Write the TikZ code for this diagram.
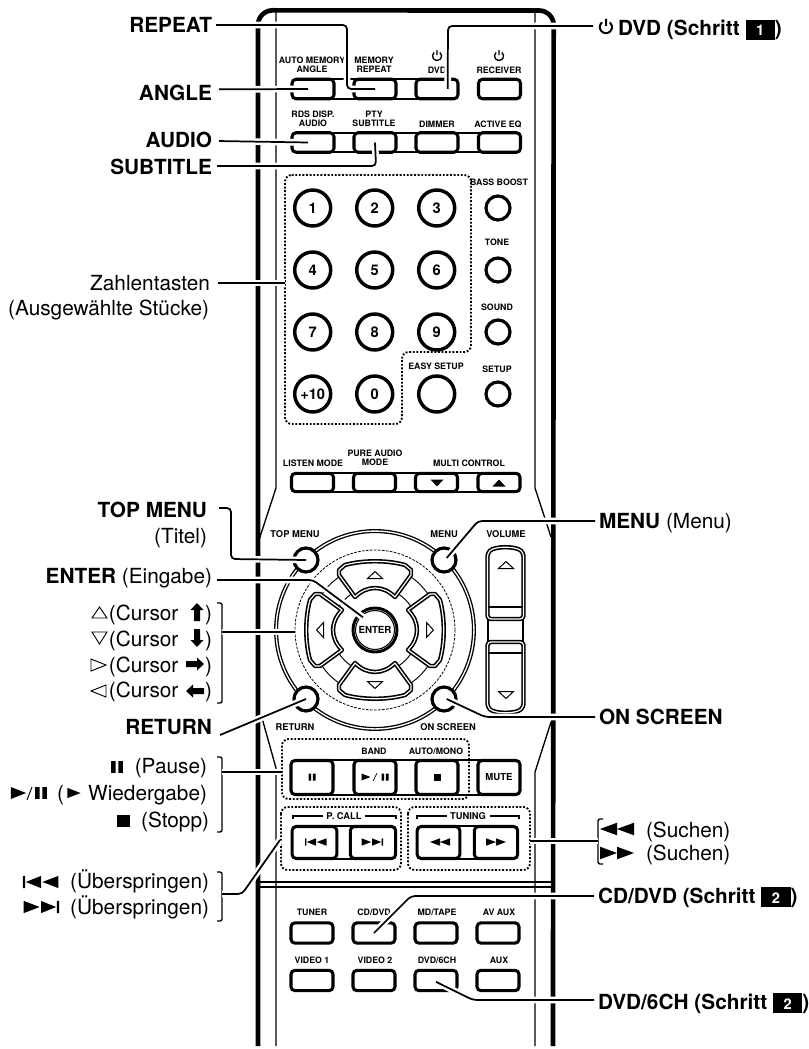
\documentclass[tikz,border=0pt]{standalone}
\usepackage{fontspec}
\setmainfont{TeX Gyre Heros}
\usetikzlibrary{positioning,calc}
\newcommand{\schrittnr}[1]{\rlap{\rule[-3pt]{22pt}{15pt}}\makebox[22pt]{\textcolor{white}{\fontsize{11}{12}\selectfont\bfseries #1}}}
\tikzset{
  pausesym/.pic={\fill (-3.5,-3.5) rectangle (-0.8,3.5) (0.8,-3.5) rectangle (3.5,3.5);},
  playsym/.pic={\fill (-4.5,-3.5) -- (4.5,0) -- (-4.5,3.5) -- cycle;},
  stopsym/.pic={\fill (-3.5,-3.5) rectangle (3.5,3.5);},
  rewsym/.pic={\fill (0,-3.7) -- (-10,0) -- (0,3.7) -- cycle (10,-3.7) -- (0,0) -- (10,3.7) -- cycle;},
  skipsym/.pic={\fill (-11,-3.7) rectangle (-9.6,3.7) (0,-3.7) -- (-9.2,0) -- (0,3.7) -- cycle (10.5,-3.7) -- (0.8,0) -- (10.5,3.7) -- cycle;},
  opentri/.pic={\draw[line width=.75pt] (-7.5,3.5) -- (7.5,3.5) -- (0,-3.5) -- cycle;},
  soltri/.pic={\fill (-6.5,3.5) -- (6.5,3.5) -- (0,-3.5) -- cycle;},
  blockarrow/.pic={\fill (0,-9) -- (6.5,-2) -- (3,-2) -- (3,9) -- (-3,9) -- (-3,-2) -- (-6.5,-2) -- cycle;},
  powersym/.pic={\draw[line width=1pt] (-2.2pt,2.6pt) arc[start angle=130,end angle=410,radius=3.4pt] (0pt,4.4pt) -- (0pt,.6pt);},
  powerbig/.pic={\draw[line width=1.5pt] (-3pt,3.5pt) arc[start angle=130,end angle=410,radius=4.6pt] (0pt,6pt) -- (0pt,.8pt);}
}
\begin{document}
\begin{tikzpicture}[x=.75pt,y=-.75pt,
   body/.style={line width=3.5pt},
   thinline/.style={line width=1pt},
   dots/.style={line width=1.4pt,dash pattern=on 1.4pt off 1.3pt,rounded corners=5pt},
   barline/.style={line width=1.3pt},
   btn/.style={draw,fill=white,line width=2.3pt,rounded corners=3pt,minimum width=31.5pt,minimum height=14.6pt,inner sep=0pt,
               font=\fontsize{7.2}{8}\selectfont\bfseries},
   numkey/.style={circle,draw,fill=white,line width=2.6pt,minimum size=27pt,inner sep=0pt,font=\fontsize{11}{12}\selectfont\bfseries},
   knob/.style={circle,draw,fill=white,line width=2.4pt,minimum size=18pt,inner sep=0pt},
   keylbl/.style={align=center,inner sep=0pt,font=\fontsize{6.6}{7.1}\selectfont\bfseries},
   padbtn/.style={draw,fill=white,line width=1.2pt,double=white,double distance=.9pt,line join=round},
   lbl/.style={anchor=base east,inner sep=0pt,outer xsep=3pt,font=\fontsize{15.6}{18}\selectfont},
   lblr/.style={anchor=base west,inner sep=0pt,outer xsep=3pt,font=\fontsize{15.6}{18}\selectfont},
   brk/.style={line width=1pt,rounded corners=1.5pt},
   leader/.style={line width=1.3pt,rounded corners=3pt,preaction={draw=white,line width=5pt}}]
  \useasboundingbox (0,0) rectangle (809,1049);

  \draw[body] (258,1046) -- (258,25) arc[start angle=180,end angle=90,radius=11pt] -- (539,10.5)
     arc[start angle=90,end angle=0,radius=11pt] -- (553,1046);
  \draw[thinline] (276,10) -- (276,488) -- (258,543);
  \draw[thinline] (535,10) -- (535,488) -- (551,537);
  \draw[thinline] (262,718) -- (276,768) -- (276,1046);
  \draw[thinline] (551,722) -- (535,772) -- (535,1046);
  \draw[thinline] (258,882) -- (553,882);
  \draw[thinline] (258,887) -- (553,887);

  \draw[barline] (313,79) -- (437,79) (313,99) -- (437,99);
  \draw[barline] (313,133) -- (499,133) (313,152) -- (499,152);
  \draw[barline] (313,473) -- (499,473) (313,492) -- (499,492);
  \draw[barline] (312,760) -- (499,760) (312,795) -- (499,795);
  \draw[barline] (314,826) -- (373,826) (314,859) -- (373,859);
  \draw[barline] (438,826) -- (496,826) (438,859) -- (496,859);

  \node[btn] (b-angle) at (313,89) {};
  \node[btn] (b-repeat) at (375,89) {};
  \node[btn] (b-dvd) at (437,89) {};
  \node[btn] (b-receiver) at (499.5,89) {};
  \node[btn] (b-audio) at (313,142.5) {};
  \node[btn] (b-subtitle) at (375,142.5) {};
  \node[btn] (b-dimmer) at (437,142.5) {};
  \node[btn] (b-activeeq) at (499.5,142.5) {};
  \node[keylbl] (t-angle) at (312,65) {AUTO MEMORY\\ANGLE};
  \node[keylbl] (t-repeat) at (374,65) {MEMORY\\REPEAT};
  \node[keylbl] (t-dvd) at (437,70) {DVD};
  \node[keylbl] (t-receiver) at (499,70) {RECEIVER};
  \pic at (437,56) {powersym};
  \pic at (499,56) {powersym};
  \node[keylbl] (t-audio) at (313,119) {RDS DISP.\\AUDIO};
  \node[keylbl] (t-subtitle) at (374,119) {PTY\\SUBTITLE};
  \node[keylbl] (t-dimmer) at (437,124.5) {DIMMER};
  \node[keylbl] (t-activeeq) at (498,124.5) {ACTIVE EQ};

  \draw[dots] (285,175) -- (471,175) -- (471,352) -- (402,352) -- (402,424) -- (285,424) -- cycle;
  \node[numkey] (n-1) at (312.7,208) {1};
  \node[numkey] (n-2) at (374.7,208) {2};
  \node[numkey] (n-3) at (436.7,208) {3};
  \node[numkey] (n-4) at (312.7,270) {4};
  \node[numkey] (n-5) at (374.7,270) {5};
  \node[numkey] (n-6) at (436.7,270) {6};
  \node[numkey] (n-7) at (312.7,332) {7};
  \node[numkey] (n-8) at (374.7,332) {8};
  \node[numkey] (n-9) at (436.7,332) {9};
  \node[numkey] (n-10) at (312.7,394) {+10};
  \node[numkey] (n-0) at (374.7,394) {0};
  \node[numkey] (k-easysetup) at (436.7,394) {};
  \node[knob] (k-bass) at (498,208) {};
  \node[knob] (k-tone) at (498,270) {};
  \node[knob] (k-sound) at (498,332) {};
  \node[knob] (k-setup) at (498,394) {};
  \node[keylbl] (t-bass) at (499,182) {BASS BOOST};
  \node[keylbl] (t-tone) at (497,242) {TONE};
  \node[keylbl] (t-sound) at (497,307) {SOUND};
  \node[keylbl] (t-setup) at (497,369) {SETUP};
  \node[keylbl] (t-easysetup) at (436,366) {EASY SETUP};

  \node[btn,minimum height=13.8pt] (b-listen) at (312.5,482.5) {};
  \node[btn,minimum height=13.8pt] (b-pure) at (374.5,482.5) {};
  \node[btn,minimum height=13.8pt] (b-down) at (436.5,482.5) {};
  \node[btn,minimum height=13.8pt] (b-up) at (499,482.5) {};
  \pic[rotate=180] at (437,483) {soltri};
  \pic at (499,483) {soltri};
  \node[keylbl] (t-listen) at (313,463) {LISTEN MODE};
  \node[keylbl] (t-pure) at (375,458) {PURE AUDIO\\MODE};
  \node[keylbl] (t-multi) at (469,463) {MULTI CONTROL};

  \coordinate (padc) at (375,630);
  \draw[line width=1pt,double=white,double distance=1pt] (padc) circle (74.2pt);
  \draw[line width=.6pt,dash pattern=on 2pt off 1pt] (padc) circle (60pt);
  \draw[line width=.7pt] (padc) circle (48pt) (padc) circle (32.2pt);
  \foreach \a in {0,90,180,270} {
    \begin{scope}[shift={(padc)},rotate=\a]
      \draw[padbtn] (-20,-33) -- (-36,-55) -- (-36,-60) -- (-30,-65) .. controls (-12,-70) and (12,-70) .. (30,-65)
         -- (36,-60) -- (36,-55) -- (20,-33) .. controls (8,-45) and (-8,-45) .. cycle;
      \pic[rotate=\a] at (0,-55) {opentri};
    \end{scope}
  }
  \node[circle,draw,fill=white,line width=2.2pt,minimum size=33pt,inner sep=0pt] (n-enter) at (padc) {};
  \draw[line width=.8pt] (padc) circle (14.6pt);
  \node[keylbl,font=\fontsize{7.3}{8}\selectfont\bfseries] (t-enter) at (padc) {ENTER};
  \node[knob] (k-topmenu) at (306,560) {};
  \node[knob] (k-menu) at (444,560) {};
  \node[knob] (k-return) at (306,699) {};
  \node[knob] (k-onscreen) at (444,699) {};
  \node[keylbl,font=\fontsize{7}{8}\selectfont\bfseries] (t-topmenu) at (295,534) {TOP MENU};
  \node[keylbl,font=\fontsize{7}{8}\selectfont\bfseries] (t-menu) at (444,534) {MENU};
  \node[keylbl,font=\fontsize{7}{8}\selectfont\bfseries] (t-volume) at (506,534) {VOLUME};
  \node[keylbl,font=\fontsize{7}{8}\selectfont\bfseries] (t-return) at (295,727) {RETURN};
  \node[keylbl,font=\fontsize{7}{8}\selectfont\bfseries] (t-onscreen) at (448,727) {ON SCREEN};

  \draw[thinline] (488,615) -- (488,645) (523,615) -- (523,645);
  \draw[padbtn,rounded corners=2.5pt] (487.5,553) .. controls (495,546) and (516,546) .. (523.5,553) -- (523.5,619) -- (487.5,619) -- cycle;
  \draw[padbtn,rounded corners=2.5pt] (487.5,707) .. controls (495,714) and (516,714) .. (523.5,707) -- (523.5,642) -- (487.5,642) -- cycle;
  \draw[line width=1.2pt] (488,607) -- (523,607) (488,653) -- (523,653);
  \pic at (506,565) {opentri};
  \pic[rotate=180] at (506,695) {opentri};

  \draw[dots] (282,739) rectangle (469,799);
  \draw[dots] (281,807) rectangle (401,870);
  \draw[dots] (408,807) rectangle (530,870);
  \node[btn,minimum height=25.5pt] (b-pause) at (312,777.5) {};
  \node[btn,minimum height=25.5pt] (b-play) at (375,777.5) {};
  \node[btn,minimum height=25.5pt] (b-stop) at (437,777.5) {};
  \node[btn,minimum height=25.5pt] (b-mute) at (499,777.5) {MUTE};
  \pic at (312,777) {pausesym};
  \pic at (366,777) {playsym};
  \draw[line width=.5pt] (373,781) -- (377,773);
  \pic at (385,777) {pausesym};
  \pic at (437,777) {stopsym};
  \node[keylbl] (t-band) at (374,751) {BAND};
  \node[keylbl] (t-auto) at (436,751) {AUTO/MONO};

  \node[keylbl,font=\fontsize{7}{8}\selectfont\bfseries] (t-pcall) at (344,816) {P. CALL};
  \node[keylbl,font=\fontsize{7}{8}\selectfont\bfseries] (t-tuning) at (468,816) {TUNING};
  \draw[line width=1.1pt] (293,819) -- (293,816) -- (323,816) (365,816) -- (396,816) -- (396,819);
  \draw[line width=1.1pt] (417,819) -- (417,816) -- (447,816) (490,816) -- (519,816) -- (519,819);
  \node[btn,minimum width=33.5pt,minimum height=24pt] (b-prev) at (314.5,842.5) {};
  \node[btn,minimum width=34pt,minimum height=24pt] (b-next) at (373,842.5) {};
  \node[btn,minimum width=32pt,minimum height=24pt] (b-rew) at (438.5,842.5) {};
  \node[btn,minimum width=32.5pt,minimum height=24pt] (b-ff) at (496,842.5) {};
  \pic at (316,842) {skipsym};
  \pic[xscale=-1] at (372,842) {skipsym};
  \pic at (440,842) {rewsym};
  \pic[xscale=-1] at (496,842) {rewsym};

  \node[btn,minimum height=15.3pt] (b-tuner) at (312,933) {};
  \node[btn,minimum height=15.3pt] (b-cddvd) at (374,933) {};
  \node[btn,minimum height=15.3pt] (b-mdtape) at (436,933) {};
  \node[btn,minimum height=15.3pt] (b-avaux) at (498,933) {};
  \node[btn,minimum height=15.3pt] (b-video1) at (312,980.5) {};
  \node[btn,minimum height=15.3pt] (b-video2) at (374,980.5) {};
  \node[btn,minimum height=15.3pt] (b-dvd6ch) at (436,980.5) {};
  \node[btn,minimum height=15.3pt] (b-aux) at (498,980.5) {};
  \node[keylbl] (t-tuner) at (312,912) {TUNER};
  \node[keylbl] (t-cddvd) at (374,912) {CD/DVD};
  \node[keylbl] (t-mdtape) at (437,912) {MD/TAPE};
  \node[keylbl] (t-avaux) at (499,912) {AV AUX};
  \node[keylbl] (t-video1) at (312,960) {VIDEO 1};
  \node[keylbl] (t-video2) at (375,960) {VIDEO 2};
  \node[keylbl] (t-dvd6ch) at (437,960) {DVD/6CH};
  \node[keylbl] (t-aux) at (499,960) {AUX};

  \node[lbl] (l-repeat) at (216,33) {\bfseries REPEAT};
  \node[lbl] (l-angle) at (216,100) {\bfseries ANGLE};
  \node[lbl] (l-audio) at (216,147.7) {\bfseries AUDIO};
  \node[lbl] (l-subtitle) at (216,174.7) {\bfseries SUBTITLE};
  \node[lbl] (l-zahlen) at (214,290) {Zahlentasten};
  \node[lbl] (l-stuecke) at (213,315) {(Ausgewählte Stücke)};
  \node[lbl] (l-topmenu) at (211,517) {\bfseries TOP MENU};
  \node[lbl] (l-titel) at (211,543) {(Titel)};
  \node[lbl] (l-enter) at (216,583) {\textbf{ENTER} (Eingabe)};
  \node[lbl] (l-cursor1) at (216,620) {(Cursor\hspace{20pt})};
  \node[lbl] (l-cursor2) at (216,646) {(Cursor\hspace{20pt})};
  \node[lbl] (l-cursor3) at (216,672) {(Cursor\hspace{20pt})};
  \node[lbl] (l-cursor4) at (216,697) {(Cursor\hspace{20pt})};
  \draw[line width=.7pt] (92,618) -- (107,618) -- (99.5,607) -- cycle;
  \draw[line width=.7pt] (92,632) -- (107,632) -- (99.5,644) -- cycle;
  \draw[line width=.7pt] (91,659) -- (91,671) -- (106,665) -- cycle;
  \draw[line width=.7pt] (106,685) -- (106,697) -- (91,691) -- cycle;
  \pic at (197,612) {blockarrow};
  \pic[rotate=180] at (197,638) {blockarrow};
  \pic[rotate=-90] at (195,664) {blockarrow};
  \pic[rotate=90] at (195,691) {blockarrow};
  \node[lbl] (l-return) at (216,734) {\bfseries RETURN};
  \node[lbl] (l-pause) at (211,773) {(Pause)};
  \node[lbl] (l-wieder) at (211,800) {(\hspace{18pt}Wiedergabe)};
  \node[lbl] (l-stopp) at (213,827) {(Stopp)};
  \pic[scale=1.7] at (117,767) {pausesym};
  \pic[scale=1.7] at (18.5,793) {playsym};
  \draw[line width=.7pt] (27,800) -- (32,787);
  \pic[scale=1.7] at (41,793) {pausesym};
  \pic[scale=1.45] at (74,793) {playsym};
  \pic[scale=1.8] at (123.5,821) {stopsym};
  \node[lbl] (l-skip1) at (213,888) {(Überspringen)};
  \node[lbl] (l-skip2) at (213,914) {(Überspringen)};
  \pic[scale=1.65] at (41,882) {skipsym};
  \pic[scale=1.65,xscale=-1] at (41,907) {skipsym};

  \node[lblr] (l-dvd) at (614,36) {\bfseries DVD (Schritt \schrittnr{1})};
  \pic at (606,27) {powerbig};
  \node[lblr] (l-menu) at (595,528) {\textbf{MENU} (Menu)};
  \node[lblr] (l-onscreen) at (595,724) {\bfseries ON SCREEN};
  \node[lblr] (l-suchen1) at (642,837) {(Suchen)};
  \node[lblr] (l-suchen2) at (642,860) {(Suchen)};
  \pic[scale=1.7] at (617,829) {rewsym};
  \pic[scale=1.7,xscale=-1] at (617,853) {rewsym};
  \node[lblr] (l-cddvd) at (594,903) {\bfseries CD/DVD (Schritt \schrittnr{2})};
  \node[lblr] (l-dvd6ch) at (594,1009) {\bfseries DVD/6CH (Schritt \schrittnr{2})};

  \draw[brk] (217,603) -- (222,603) -- (222,703) -- (217,703);
  \draw[brk] (217,757) -- (222,757) -- (222,832) -- (217,832);
  \draw[brk] (217,872) -- (222,872) -- (222,921) -- (217,921);
  \draw[brk] (603,819) -- (598,819) -- (598,864) -- (603,864);
  \coordinate (br-cursor) at (222,632);
  \coordinate (br-pause) at (222,772);
  \coordinate (br-skip) at (222,894);
  \coordinate (br-suchen) at (598,841);
  \coordinate (e-zahlen) at (285,283);
  \coordinate (e-cursor) at (295,632);
  \coordinate (e-pause) at (282,772);
  \coordinate (e-skip) at (280,840);
  \coordinate (e-suchen) at (530,841);
  \coordinate (s-dvd) at (593,26);

  \draw[leader] ([yshift=6pt]l-repeat.base east) -- (347,25) -- (347,89) -- (b-repeat.center);
  \draw[leader] ([xshift=2.25pt,yshift=8pt]l-angle.base east) -- ([xshift=-3.75pt]b-angle.center);
  \draw[leader] ([xshift=2.25pt,yshift=5pt]l-audio.base east) -- ([xshift=-3.75pt]b-audio.center);
  \draw[leader] ([xshift=.75pt,yshift=6.5pt]l-subtitle.base east) -- (376,166) -- (b-subtitle.center);
  \draw[leader] ([xshift=3pt,yshift=5.25pt]l-zahlen.base east) -- (e-zahlen);
  \draw[leader] (s-dvd) -- (448,26) -- ([xshift=8pt]b-dvd.center);
  \draw[leader] ([xshift=6pt,yshift=6.75pt]l-topmenu.base east) -- (231,508) -- (231,559) -- (k-topmenu.center);
  \draw[leader] ([xshift=.75pt,yshift=2.25pt]l-enter.base east) -- (313,580) -- ([xshift=-9pt,yshift=9.5pt]n-enter.center);
  \draw[leader] (br-cursor) -- (e-cursor);
  \draw[leader] ([xshift=3pt,yshift=-.75pt]l-return.base east) -- (k-return.center);
  \draw[leader] (br-pause) -- (e-pause);
  \draw[leader] (br-skip) -- (242,894) -- (e-skip);
  \draw[leader] (br-suchen) -- (e-suchen);
  \draw[leader] ([yshift=5.25pt]l-menu.base west) -- (478,521) -- ([xshift=2pt,yshift=1.5pt]k-menu.center);
  \draw[leader] ([yshift=5.25pt]l-onscreen.base west) -- (485,717) -- ([xshift=2pt]k-onscreen.center);
  \draw[leader] ([yshift=5.25pt]l-cddvd.base west) -- (411,896) -- (b-cddvd.center);
  \draw[leader] ([yshift=6.75pt]l-dvd6ch.base west) -- (473,1000) -- ([yshift=-1pt]b-dvd6ch.center);
\end{tikzpicture}
\end{document}
